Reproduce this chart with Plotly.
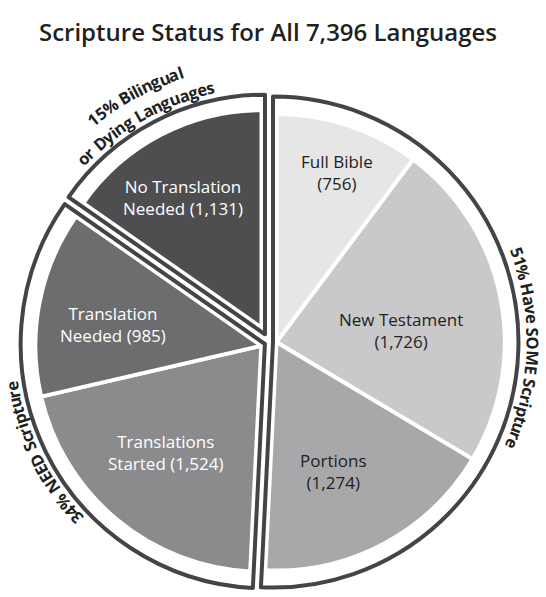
import math
import plotly.graph_objects as go

# ---------------- data ----------------
categories = ["Full Bible", "New Testament", "Portions",
              "Translations Started", "Translation Needed", "No Translation Needed"]
values = [756, 1726, 1274, 1524, 985, 1131]
label_first = ["Full Bible", "New Testament", "Portions", "Translations", "Translation", "No Translation"]
label_second = ["", "", "", "Started ", "Needed ", "Needed "]
slice_group = [0, 0, 0, 1, 1, 2]
group_titles = [["51% Have SOME Scripture"], ["34% NEED Scripture"], ["15% Bilingual", "or Dying Languages"]]
title_text = "Scripture Status for All 7,396 Languages"

# ---------------- style ----------------
W, H = 546, 597
CX, CY = 269.0, 342.0
R_OUT = 248.0      # outline centre-line radius
R_FILL = 233.0     # fill arc radius
D_OUT = 4.0        # inset of outline from group boundary
D_FILL = 7.5       # inset of fill from group boundary
OUT_W = 4
SEP_W = 4
OUTLINE = "#444446"
slice_colors = ["#e6e6e7", "#c9c9cb", "#a8a8ab", "#8b8b8e", "#6d6d70", "#4e4e51"]
text_colors = ["#231f20", "#231f20", "#231f20", "white", "white", "white"]
label_dtheta = [3.5, 6.4, 1.6, 3.2, -4.4, -3.2]
label_r = [183, 132, 145, 151, 157, 168]
group_text_r = [[264], [261], [284, 261]]
group_text_dtheta = [[0.0], [0.0], [-1.0, -1.8]]
TXT = "#231f20"
CLEAR = "rgba(0,0,0,0)"

total = sum(values)
ngroups = 3
group_vals = [[v for v, g in zip(values, slice_group) if g == k] for k in range(ngroups)]
group_idx = [[i for i, g in enumerate(slice_group) if g == k] for k in range(ngroups)]
group_tot = [sum(v) for v in group_vals]
group_start = []
acc = 0.0
for k in range(ngroups):
    group_start.append(acc)
    acc += group_tot[k] / total * 360.0
group_span = [t / total * 360.0 for t in group_tot]


def domain_for(cx, cy, r):
    return dict(x=[(cx - r) / W, (cx + r) / W], y=[1 - (cy + r) / H, 1 - (cy - r) / H])


def inset_pie(k, d, r_arc):
    a = math.radians(group_span[k] / 2)
    bis = math.radians(group_start[k] + group_span[k] / 2)
    s = d / math.sin(a)
    cx = CX + s * math.sin(bis)
    cy = CY - s * math.cos(bis)
    r = r_arc - s * math.sin(a) / a
    return cx, cy, r


fig = go.Figure()

# fills
for k in range(ngroups):
    cx, cy, r = inset_pie(k, D_FILL, R_FILL)
    vals = group_vals[k] + [total - group_tot[k]]
    cols = [slice_colors[i] for i in group_idx[k]] + [CLEAR]
    widths = [SEP_W] * len(group_vals[k]) + [0]
    fig.add_trace(go.Pie(
        values=vals, labels=[categories[i] for i in group_idx[k]] + ["rest%d" % k],
        sort=False, direction="clockwise", rotation=group_start[k],
        domain=domain_for(cx, cy, r), textinfo="none", hoverinfo="skip",
        marker=dict(colors=cols, line=dict(color="white", width=widths)),
        showlegend=False))

# outlines
for k in range(ngroups):
    cx, cy, r = inset_pie(k, D_OUT, R_OUT)
    fig.add_trace(go.Pie(
        values=[group_tot[k], total - group_tot[k]], labels=["grp%d" % k, "other%d" % k],
        sort=False, direction="clockwise", rotation=group_start[k],
        domain=domain_for(cx, cy, r), textinfo="none", hoverinfo="skip",
        marker=dict(colors=[CLEAR, CLEAR], line=dict(color=[OUTLINE, CLEAR], width=[OUT_W, 0])),
        showlegend=False))

annotations = []

# slice labels
acc = 0.0
for i, v in enumerate(values):
    span = v / total * 360.0
    th = math.radians(acc + span / 2 + label_dtheta[i])
    acc += span
    x = CX + label_r[i] * math.sin(th)
    y = CY - label_r[i] * math.cos(th)
    annotations.append(dict(
        x=x / W, y=1 - y / H, xref="paper", yref="paper", showarrow=False,
        xanchor="center", yanchor="middle",
        text=f"{label_first[i]}<br>{label_second[i]}({v:,})",
        font=dict(family="Open Sans", size=17, color=text_colors[i])))

# curved group texts
CW = {" ": 0.26, "%": 0.88, "B": 0.664, "D": 0.742, "E": 0.556, "H": 0.757, "L": 0.56,
      "M": 0.94, "N": 0.79, "O": 0.794, "S": 0.55, "a": 0.584, "c": 0.48, "e": 0.57,
      "g": 0.56, "i": 0.285, "l": 0.285, "n": 0.626, "o": 0.61, "p": 0.61, "r": 0.43,
      "s": 0.48, "t": 0.43, "u": 0.626, "v": 0.56, "y": 0.56}
CURVE_SIZE = 16.5


def char_w(ch):
    if ch.isdigit():
        return 0.572
    return CW.get(ch, 0.6)


for k in range(ngroups):
    bis = group_start[k] + group_span[k] / 2
    for line, rr, dth in zip(group_titles[k], group_text_r[k], group_text_dtheta[k]):
        advs = [char_w(c) * CURVE_SIZE for c in line]
        tot = sum(advs)
        pos = -tot / 2
        for c, a in zip(line, advs):
            mid = pos + a / 2
            pos += a
            if c == " ":
                continue
            th_deg = bis + dth + math.degrees(mid / rr)
            th = math.radians(th_deg)
            x = CX + rr * math.sin(th)
            y = CY - rr * math.cos(th)
            annotations.append(dict(
                x=x / W, y=1 - y / H, xref="paper", yref="paper", showarrow=False,
                xanchor="center", yanchor="middle", textangle=((th_deg + 180) % 360) - 180,
                text="<b>%s</b>" % c,
                font=dict(family="Open Sans", size=CURVE_SIZE, color=TXT)))

fig.update_layout(
    width=W, height=H, autosize=False,
    margin=dict(l=0, r=0, t=0, b=0),
    paper_bgcolor="white", plot_bgcolor="white",
    showlegend=False,
    title=dict(text=title_text, x=268 / W, xanchor="center", y=1 - 33 / H, yanchor="middle",
               font=dict(family="Open Sans", size=24, color=TXT, weight=600)),
    annotations=annotations,
)

fig.write_html("out.html", config={"displayModeBar": False},
               post_script="document.body.style.margin='0';document.body.style.overflow='hidden';")
